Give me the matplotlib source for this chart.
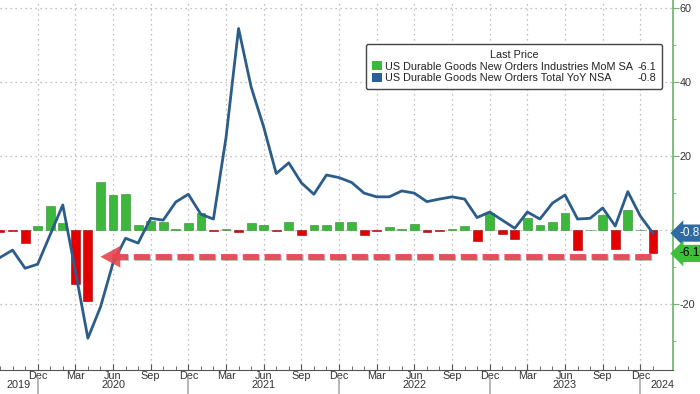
import numpy as np
import matplotlib
matplotlib.use("Agg")
import matplotlib.pyplot as plt
from matplotlib.patches import Rectangle
from matplotlib import patheffects as pe
import matplotlib.transforms as mtransforms

plt.rcParams['font.family'] = ['Liberation Sans', 'DejaVu Sans']

# monthly data, Sep 2019 .. Jan 2024
months = ['Sep19', 'Oct19', 'Nov19', 'Dec19',
          'Jan20', 'Feb20', 'Mar20', 'Apr20', 'May20', 'Jun20', 'Jul20', 'Aug20', 'Sep20', 'Oct20', 'Nov20', 'Dec20',
          'Jan21', 'Feb21', 'Mar21', 'Apr21', 'May21', 'Jun21', 'Jul21', 'Aug21', 'Sep21', 'Oct21', 'Nov21', 'Dec21',
          'Jan22', 'Feb22', 'Mar22', 'Apr22', 'May22', 'Jun22', 'Jul22', 'Aug22', 'Sep22', 'Oct22', 'Nov22', 'Dec22',
          'Jan23', 'Feb23', 'Mar23', 'Apr23', 'May23', 'Jun23', 'Jul23', 'Aug23', 'Sep23', 'Oct23', 'Nov23', 'Dec23',
          'Jan24']

mom = [-0.4, -0.3, -3.6, 1.1,
       6.5, 1.8, -14.6, -19.1, 13.1, 9.5, 9.7, 1.4, 2.5, 2.3, 0.2, 1.8,
       4.5, -0.3, 0.4, -0.5, 2.0, 1.5, -0.1, 2.3, -1.4, 1.4, 1.5, 2.3,
       2.1, -1.4, -0.1, 0.9, 0.4, 1.6, -0.6, -0.1, 0.3, 1.1, -3.0, 4.5,
       -1.1, -2.5, 3.3, 1.3, 2.1, 4.5, -5.4, 0.1, 4.2, -5.0, 5.4, 0.0,
       -6.1]

yoy = [-7.4, -5.4, -10.3, -9.2,
       -1.2, 6.8, -11.0, -29.2, -20.8, -8.9, -2.2, -3.5, 3.2, 2.7, 7.6, 9.7,
       4.3, 3.0, 25.0, 54.5, 38.7, 27.9, 15.3, 18.2, 12.8, 9.7, 14.9, 14.2,
       12.9, 10.0, 9.0, 9.0, 10.6, 10.0, 7.7, 8.4, 9.0, 8.4, 3.4, 4.9,
       2.7, 0.5, 4.9, 3.0, 7.3, 9.5, 3.0, 3.2, 6.0, 1.1, 10.4, 3.8,
       -0.8]

mom_name = 'US Durable Goods New Orders Industries MoM SA'
yoy_name = 'US Durable Goods New Orders Total YoY NSA'

GREEN = '#3cb83c'
RED = '#e40000'
BLUE = '#2c5d8a'
AXGREEN = '#6ab46a'
ARROW = '#e8444e'

x = np.arange(len(months))

fig = plt.figure(figsize=(7, 3.94), dpi=100)
ax = fig.add_axes([0, 24 / 394, 673 / 700, 370 / 394])

cols = [GREEN if v >= 0 else RED for v in mom]
edges = ['#2a8a2a' if v >= 0 else '#a00000' for v in mom]
ax.bar(x, mom, width=0.7, color=cols, edgecolor=edges, linewidth=0.4, zorder=3)
ax.plot(x, yoy, color=BLUE, lw=2.0, zorder=4)

ax.set_xlim(0.31, 53.6)
ax.set_ylim(-37.8, 62.2)

# grid
ax.set_yticks([-20, 0, 20, 40, 60])
ax.set_yticks([-30, -10, 10, 30, 50], minor=True)
ax.yaxis.grid(True, color='#aaaaaa', ls=(0, (1, 3)), lw=0.9)
qt = [i for i, m in enumerate(months) if m[:3] in ('Dec', 'Mar', 'Jun', 'Sep') and i > 0]
ax.set_xticks(qt)
ax.set_xticklabels([months[i][:3] for i in qt])
ax.set_xticks(x, minor=True)
ax.xaxis.grid(True, color='#aaaaaa', ls=(0, (1, 3)), lw=0.9)
ax.set_axisbelow(True)

for s in ('left', 'top'):
    ax.spines[s].set_visible(False)
ax.spines['right'].set_color(AXGREEN)
ax.spines['right'].set_linewidth(1.2)
ax.spines['bottom'].set_color('#555555')

ax.yaxis.tick_right()
ax.tick_params(axis='y', which='both', direction='out', colors=AXGREEN, labelcolor='#333333',
               labelsize=7.8, length=4, pad=1)
ax.tick_params(axis='y', which='minor', length=2.5)
ax.set_yticklabels(['-20', '', '20', '40', '60'])
ax.tick_params(axis='x', which='both', direction='in', colors='#555555', labelcolor='#333333',
               labelsize=7.8, length=3, pad=1)
ax.tick_params(axis='x', which='major', length=4)

# year labels and separators
trans = mtransforms.blended_transform_factory(ax.transData, fig.transFigure)
years = {'2019': 1.5, '2020': 9, '2021': 21, '2022': 33, '2023': 45, '2024': 52.8}
for yr, xp in years.items():
    ax.text(xp, 4 / 394, yr, transform=trans, ha='center', va='bottom', fontsize=7.8, color='#333333')
for i, m in enumerate(months):
    if m.startswith('Dec'):
        ax.plot([i, i], [0, 16 / 394], transform=trans, color='#aaaaaa', lw=1.2, clip_on=False)

# dashed arrow at the last MoM level
arr_y = -7.2
ax.plot([8.9, 52.2], [arr_y, arr_y], color=ARROW, lw=4.3, dashes=(2.7, 0.95),
        solid_capstyle='butt', dash_capstyle='butt', zorder=5, alpha=0.9,
        path_effects=[pe.SimpleLineShadow(offset=(0.8, -1.2), alpha=0.25), pe.Normal()])
ax.annotate('', xy=(8.0, arr_y), xytext=(9.2, arr_y),
            arrowprops=dict(arrowstyle='-|>,head_length=1.1,head_width=0.6', color=ARROW, alpha=0.9,
                            lw=0, mutation_scale=13, shrinkA=0, shrinkB=0), zorder=5)

# last value tags
tt = mtransforms.blended_transform_factory(ax.transAxes, ax.transData)
ax.text(1.01, yoy[-1], '%.1f' % yoy[-1], transform=tt, ha='left', va='center', fontsize=8.5,
        color='white', bbox=dict(boxstyle='larrow,pad=0.22', fc='#2f6aa3', ec='none'), zorder=6)
ax.text(1.01, -6.3, '%.1f' % mom[-1], transform=tt, ha='left', va='center', fontsize=8.5,
        color='black', bbox=dict(boxstyle='larrow,pad=0.22', fc='#3cc03c', ec='none'), zorder=6)

# legend
h1 = Rectangle((0, 0), 1, 1, fc=GREEN, ec='none')
h2 = Rectangle((0, 0), 1, 1, fc='#2a6099', ec='none')
he = Rectangle((0, 0), 1, 1, alpha=0)
leg = ax.legend([h1, h2, he, he], [mom_name, yoy_name, '%.1f' % mom[-1], '%.1f' % yoy[-1]],
                ncol=2, title='Last Price', loc='upper right', bbox_to_anchor=(0.992, 0.895),
                fontsize=7.8, title_fontsize=7.8, handlelength=0.9, handleheight=0.9,
                handletextpad=0.3, columnspacing=-0.8, labelspacing=0.1, borderpad=0.55,
                frameon=True, fancybox=True, framealpha=1, edgecolor='#444444')
leg.get_frame().set_linewidth(1.0)
leg.get_title().set_color('#222222')
for t in leg.get_texts():
    t.set_color('#222222')

fig.savefig('out.png', dpi=100)
